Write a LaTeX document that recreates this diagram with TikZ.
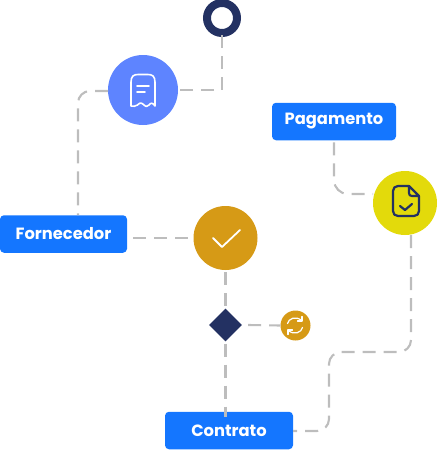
\documentclass[tikz,border=0pt]{standalone}
\usepackage{fontspec}
\setmainfont{Poppins}
\usetikzlibrary{shapes.geometric}
\definecolor{navy}{HTML}{233162}
\definecolor{blueb}{HTML}{1476FF}
\definecolor{peri}{HTML}{5E84FF}
\definecolor{ochre}{HTML}{D69A16}
\definecolor{lime}{HTML}{E3DA0B}
\definecolor{dashc}{HTML}{BDBDBD}
\newcommand{\boxtext}[1]{\raisebox{-1.5pt}{#1}}
\tikzset{
  x=1pt,y=-1pt,
  labelbox/.style={rectangle,rounded corners=4pt,fill=blueb,text=white,font=\fontsize{16.3}{18}\selectfont\bfseries,minimum height=37.5pt,inner sep=0pt,anchor=center},
  disc/.style={circle,inner sep=0pt,outer sep=0pt},
  flow/.style={draw=dashc,line width=2.1pt,dash pattern=on 13pt off 8pt},
  icon/.style={draw=white,line width=1.6pt,line cap=round,line join=round}
}
\begin{document}
\begin{tikzpicture}
\useasboundingbox (0,0) rectangle (438,450);
% nodes
\node[disc,draw=navy,line width=8pt,minimum size=30pt] (start) at (222,18) {};
\node[disc,fill=peri,minimum size=70pt] (receipt) at (143,90) {};
\node[labelbox,minimum width=124pt] (pag) at (334,121.5) {\boxtext{Pagamento}};
\node[disc,fill=lime,minimum size=64pt] (doc) at (405,203) {};
\node[labelbox,minimum width=127pt] (forn) at (63.5,234) {\boxtext{Fornecedor}};
\node[disc,fill=ochre,minimum size=64pt] (check) at (225.5,238) {};
\node[diamond,fill=navy,minimum width=33pt,minimum height=33pt,inner sep=0pt] (dia) at (225.5,325) {};
\node[disc,fill=ochre,minimum size=30pt] (ref) at (295.5,325.5) {};
\node[labelbox,minimum width=128pt] (con) at (229,430.5) {\boxtext{Contrato}};
% bends
\coordinate (b1) at (start.south |- receipt.east);
\coordinate (b2) at (78,91);
\coordinate (b3) at (334,194);
\coordinate (b4) at (411,352);
\coordinate (b5) at (329,352);
\coordinate (b6) at (329,431);
% connectors
\draw[flow,line cap=butt] (start.south) ++(0,2) -- (b1) -- (receipt.east |- b1);
\draw[flow,rounded corners=12pt] (receipt.west |- b2) -- (b2) -- (forn.north -| b2);
\draw[flow] (forn.east |- check.west) ++(6,0) -- (check.west);
\draw[flow] (check.south) ++(0,2) -- (dia.north);
\draw[flow] (dia.south) ++(0,2) -- ([yshift=-5pt]con.north -| dia.south);
\draw[flow] (dia.east) ++(6,0) -- (ref.west);
\draw[flow,rounded corners=14pt] (pag.south) ++(0,2) -- (b3) -- (doc.west |- b3);
\draw[flow,rounded corners=12pt] (411,235) -- (b4) -- (b5) -- (b6) -- (con.east |- b6);
% receipt icon
\draw[icon] (131,106) -- (131,82) .. controls (131,76) and (134,74.5) .. (138,74.5) -- (148,74.5) .. controls (152,74.5) and (155,76) .. (155,82) -- (155,106)
 .. controls (152.5,102.5) and (151,102.5) .. (149,105) .. controls (147,107) and (146,107) .. (143.5,104.5) .. controls (141,102.5) and (140,102.5) .. (137.5,105) .. controls (135,107) and (133.5,106) .. (131,106) -- cycle;
\draw[icon] (137,86) -- (149,86);
\draw[icon] (137,92) -- (145,92);
% document icon
\draw[draw=navy,line width=2.2pt,line join=round,line cap=round]
  (409,186) -- (398,186) .. controls (395,186) and (393,188) .. (393,191) -- (393,211) .. controls (393,214) and (395,216) .. (398,216) -- (414,216) .. controls (417,216) and (419,214) .. (419,211) -- (419,196) -- (409,186) -- (409,193) .. controls (409,195) and (410,196) .. (412,196) -- (419,196);
\draw[draw=navy,line width=2.2pt,line join=round,line cap=round] (400,206) -- (405,210) -- (412,204);
% check icon
\draw[icon,line width=1.8pt] (213,238) -- (222,247) -- (240,230);
% refresh icon
\draw[icon,line width=1.2pt] (287.5,323.5) .. controls (288.5,318.5) and (296,315.5) .. (301.5,320.5);
\draw[icon,line width=1.2pt] (302,316.5) -- (302,321) -- (297.5,321);
\draw[icon,line width=1.2pt] (302.5,327.5) .. controls (301.5,332.5) and (294,335.5) .. (288.5,330.5);
\draw[icon,line width=1.2pt] (288,334.5) -- (288,330) -- (292.5,330);
\end{tikzpicture}
\end{document}
